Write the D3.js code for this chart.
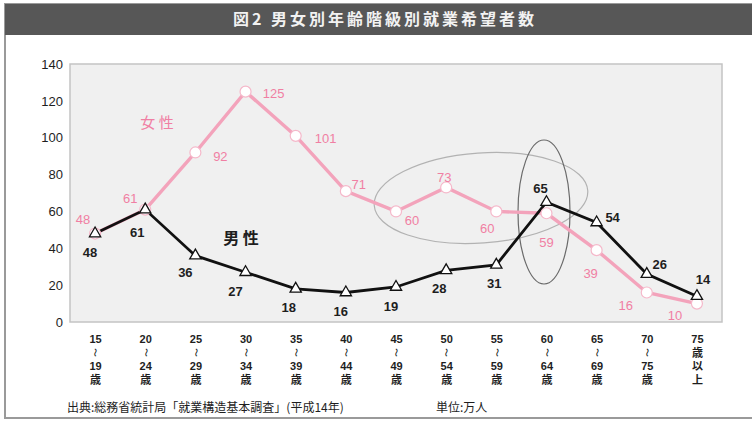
<!DOCTYPE html>
<html>
<head>
<meta charset="utf-8">
<script src="https://cdn.jsdelivr.net/npm/d3@7"></script>
<style>
  body { margin: 0; background: #fff; }
  svg { display: block; font-family: "Liberation Sans", "Noto Sans CJK JP", sans-serif; }
</style>
</head>
<body>
<script>
// data
const ageStart = ["15", "20", "25", "30", "35", "40", "45", "50", "55", "60", "65", "70", "75"];
const ageEnd = ["19", "24", "29", "34", "39", "44", "49", "54", "59", "64", "69", "75", null];
const female = [48, 61, 92, 125, 101, 71, 60, 73, 60, 59, 39, 16, 10];
const male = [48, 61, 36, 27, 18, 16, 19, 28, 31, 65, 54, 26, 14];
const yTicks = [0, 20, 40, 60, 80, 100, 120, 140];

// label offsets from each point (layout only)
const femaleOff = [[-12, -14], [-15, -11], [25, 4], [28, 2], [30, 3], [13, -7], [16, 9], [-2, -10], [-9, 17], [0, 29], [-6, 23], [-21, 13], [-22, 12]];
const maleOff = [[-5, 19], [-8, 23], [-10, 17], [-10, 19], [-7, 19], [-5, 19], [-5, 19], [-7, 18], [-2, 19], [-6, -14], [16, -5], [13, -10], [6, -17]];

const w = 752, h = 421;
const plot = { left: 70, right: 722, top: 64, bottom: 322 };
const pink = "#f3a3bb", pinkText = "#f07fa3", ink = "#1e1e1e";

const svg = d3.select("body").append("svg").attr("width", w).attr("height", h);

// frame + title bar
svg.append("rect").attr("x", 5).attr("y", 4).attr("width", w + 10).attr("height", 414)
  .attr("fill", "#fff").attr("stroke", "#9a9a9a").attr("stroke-width", 2);
svg.append("rect").attr("x", 5).attr("y", 4).attr("width", w).attr("height", 31).attr("fill", "#575757");
svg.append("text").attr("x", 385).attr("y", 25).attr("text-anchor", "middle")
  .attr("fill", "#f2f2f2").attr("font-size", 16).attr("font-weight", "bold")
  .attr("letter-spacing", 3).style("font-family", "'Noto Sans CJK JP'")
  .text("図2 男女別年齢階級別就業希望者数");

// plot area
svg.append("rect").attr("x", plot.left).attr("y", plot.top)
  .attr("width", plot.right - plot.left).attr("height", plot.bottom - plot.top)
  .attr("fill", "#f0f0f0").attr("stroke", "#c4c4c4").attr("stroke-width", 1.5);

const x = d3.scalePoint().domain(ageStart).range([plot.left, plot.right]).padding(0.5);
const y = d3.scaleLinear().domain([0, 140]).range([plot.bottom, plot.top]);

// y axis
const yAxis = svg.append("g").attr("transform", `translate(${plot.left},0)`)
  .call(d3.axisLeft(y).tickValues(yTicks).tickSize(0).tickPadding(7));
yAxis.select(".domain").remove();
yAxis.selectAll("text").attr("font-size", 13).attr("fill", ink)
  .style("font-family", "'Liberation Sans'");

// x axis (stacked labels)
const xAxis = svg.append("g").attr("transform", `translate(0,${plot.bottom})`)
  .call(d3.axisBottom(x).tickSize(0).tickFormat(""));
xAxis.select(".domain").remove();
xAxis.selectAll(".tick").each(function (d, i) {
  const g = d3.select(this);
  const num = (s, yy) => g.append("text").attr("y", yy).attr("text-anchor", "middle")
    .attr("fill", ink).attr("font-size", 11).attr("font-weight", "bold")
    .style("font-family", "'Liberation Sans'").text(s);
  num(d, 21);
  if (ageEnd[i]) {
    g.append("text").attr("transform", "translate(0,30.5) rotate(90)").attr("dy", "0.35em")
      .attr("text-anchor", "middle").attr("fill", ink).attr("font-size", 9).text("〜");
    num(ageEnd[i], 48);
    g.append("text").attr("y", 61.5).attr("text-anchor", "middle").attr("fill", ink)
      .attr("font-size", 11).attr("font-weight", "bold").style("font-family", "'Noto Sans CJK JP'")
      .text("歳");
  } else {
    g.append("text").attr("y", 25).attr("text-anchor", "start").attr("fill", ink)
      .attr("font-size", 11).attr("font-weight", "bold").attr("letter-spacing", 2.5)
      .style("writing-mode", "vertical-rl").style("font-family", "'Noto Sans CJK JP'")
      .text("歳以上");
  }
});

// ellipses
svg.append("ellipse").attr("cx", 481).attr("cy", 198).attr("rx", 107).attr("ry", 45)
  .attr("transform", "rotate(-4 481 198)")
  .attr("fill", "none").attr("stroke", "#b2b2b2").attr("stroke-width", 1.2);
svg.append("ellipse").attr("cx", 544).attr("cy", 212).attr("rx", 26).attr("ry", 72)
  .attr("fill", "none").attr("stroke", "#6a6a6a").attr("stroke-width", 1.2);

const line = d3.line().x((d, i) => x(ageStart[i])).y(d => y(d));

svg.append("path").datum(female).attr("d", line)
  .attr("fill", "none").attr("stroke", pink).attr("stroke-width", 3.4);
svg.append("path").datum(male).attr("d", line)
  .attr("fill", "none").attr("stroke", "#111").attr("stroke-width", 2.8);

svg.append("g").selectAll("circle").data(female).join("circle")
  .attr("cx", (d, i) => x(ageStart[i])).attr("cy", d => y(d)).attr("r", 5.5)
  .attr("fill", "#fff").attr("stroke", "#f5b8ca").attr("stroke-width", 1.2);

svg.append("g").selectAll("path").data(male).join("path")
  .attr("d", d3.symbol(d3.symbolTriangle, 55))
  .attr("transform", (d, i) => `translate(${x(ageStart[i])},${y(d)})`)
  .attr("fill", "#fff").attr("stroke", "#111").attr("stroke-width", 1.3);

// value labels
svg.append("g").selectAll("text").data(female).join("text")
  .attr("x", (d, i) => x(ageStart[i]) + femaleOff[i][0])
  .attr("y", (d, i) => y(d) + femaleOff[i][1])
  .attr("dy", "0.35em").attr("text-anchor", "middle")
  .attr("font-size", 13).attr("fill", pinkText)
  .text(d => d);

svg.append("g").selectAll("text").data(male).join("text")
  .attr("x", (d, i) => x(ageStart[i]) + maleOff[i][0])
  .attr("y", (d, i) => y(d) + maleOff[i][1])
  .attr("dy", "0.35em").attr("text-anchor", "middle")
  .attr("font-size", 13).attr("font-weight", "bold").attr("fill", ink)
  .text(d => d);

// series names
svg.append("text").attr("x", 157).attr("y", 128).attr("text-anchor", "middle")
  .attr("fill", pinkText).attr("font-size", 15).style("font-family", "'Noto Sans CJK JP'")
  .text("女 性");
svg.append("text").attr("x", 241).attr("y", 244).attr("text-anchor", "middle")
  .attr("fill", ink).attr("font-size", 16).attr("font-weight", "bold").style("font-family", "'Noto Sans CJK JP'")
  .text("男 性");

// footer
svg.append("text").attr("x", 67).attr("y", 412).attr("fill", ink)
  .attr("font-size", 12).style("font-family", "'Noto Sans CJK JP'")
  .text("出典:総務省統計局「就業構造基本調査」(平成14年)");
svg.append("text").attr("x", 436).attr("y", 412).attr("fill", ink)
  .attr("font-size", 12).style("font-family", "'Noto Sans CJK JP'")
  .text("単位:万人");
</script>
</body>
</html>
